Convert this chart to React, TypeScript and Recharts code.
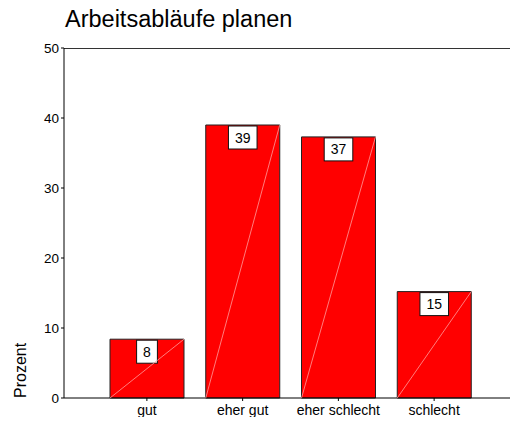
import React from 'react'
import { BarChart, Bar, XAxis, YAxis } from 'recharts'

const categories = ['gut', 'eher gut', 'eher schlecht', 'schlecht']
const percent = [8.4, 39.0, 37.3, 15.2]
const yTicks = [0, 10, 20, 30, 40, 50]

const data = categories.map((name, i) => ({ name, value: percent[i] }))

const FONT = 'Arial, "Liberation Sans", sans-serif'

// white value box at the top of each bar, plus the faint diagonal of the bar fill
const ValueLabel = (props: any) => {
  const { x, y, width, height, value } = props
  const text = String(Math.round(Number(value)))
  const bw = text.length * 7.8 + 13
  const bh = 23
  const cx = x + width / 2
  return (
    <g>
      <rect x={cx - bw / 2} y={y + 1} width={bw} height={bh} fill="#fff" stroke="#111" strokeWidth={1} />
      <line x1={x} y1={y + height} x2={x + width} y2={y} stroke="#ff9c9c" strokeWidth={0.8} />
      <text x={cx} y={y + 1 + bh / 2 + 5} textAnchor="middle" fontSize={14} fontFamily={FONT} fill="#000">
        {text}
      </text>
    </g>
  )
}

const YLabel = (props: any) => {
  const vb = props.viewBox || {}
  return (
    <text
      x={18}
      y={vb.y + vb.height}
      transform={`rotate(-90, 18, ${vb.y + vb.height})`}
      textAnchor="start"
      fontSize={16}
      fontFamily={FONT}
      fill="#000"
    >
      Prozent
    </text>
  )
}

export default function App() {
  return (
    <div style={{ position: 'relative', width: 510, height: 417, marginBottom: -8, fontFamily: FONT }}>
      <div
        style={{
          position: 'absolute',
          left: 57,
          top: -1,
          fontSize: 23.5,
          lineHeight: '24px',
          color: '#000',
          whiteSpace: 'nowrap',
        }}
      >
        Arbeitsabläufe planen
      </div>
      {/* top and right edges of the plot frame */}
      <div
        style={{
          position: 'absolute',
          left: 56,
          top: 40,
          width: 452,
          height: 350,
          borderTop: '1px solid #333',
          borderRight: '1px solid #333',
          pointerEvents: 'none',
        }}
      />
      <BarChart width={510} height={417} data={data} margin={{ top: 40, right: 1, bottom: 0, left: 0 }}>
        <XAxis
          dataKey="name"
          height={27}
          padding={{ left: 35, right: 35 }}
          axisLine={{ stroke: '#000' }}
          tickLine={{ stroke: '#000' }}
          tickSize={3}
          tickMargin={4}
          interval={0}
          tick={{ fontSize: 14, fill: '#000', fontFamily: FONT }}
        />
        <YAxis
          width={56}
          domain={[0, 50]}
          ticks={yTicks}
          axisLine={{ stroke: '#000' }}
          tickLine={{ stroke: '#000' }}
          tickSize={3}
          tickMargin={2}
          tick={{ fontSize: 13.5, fill: '#000', fontFamily: FONT }}
          label={<YLabel />}
        />
        <Bar
          dataKey="value"
          barSize={74}
          fill="#ff0000"
          stroke="#222"
          strokeWidth={1}
          isAnimationActive={false}
          label={<ValueLabel />}
        />
      </BarChart>
    </div>
  )
}
